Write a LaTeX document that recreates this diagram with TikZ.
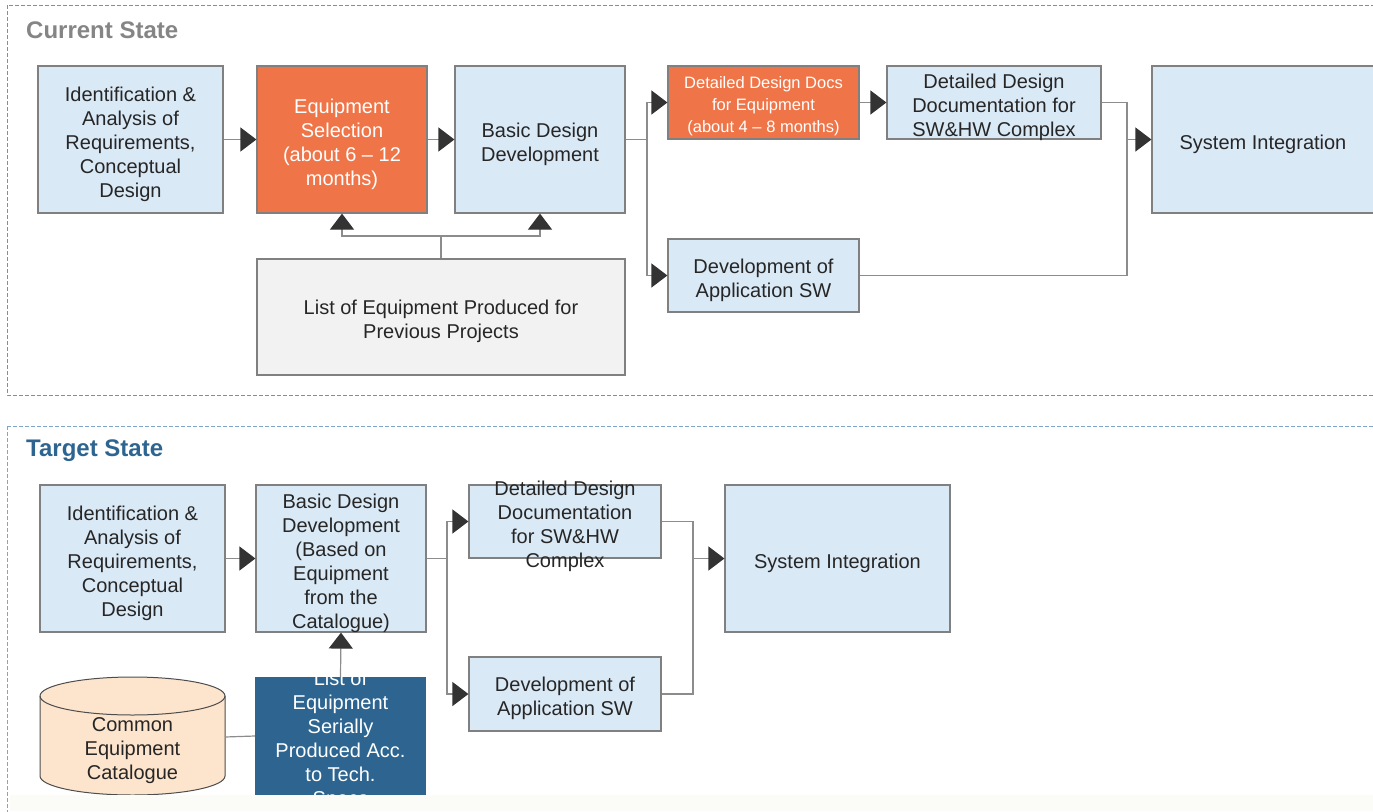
\documentclass[tikz,border=0pt]{standalone}
\usepackage{fontspec}
\setmainfont{Liberation Sans}
\usepackage{tikz}
\usetikzlibrary{arrows.meta}
\usetikzlibrary{calc}
\definecolor{lightblue}{HTML}{DAE9F6}
\definecolor{boxorange}{HTML}{EF7548}
\definecolor{listgrey}{HTML}{F2F2F2}
\definecolor{peach}{HTML}{FDE4CC}
\definecolor{darkblue}{HTML}{2D6590}
\definecolor{bordergrey}{HTML}{808080}
\definecolor{linegrey}{HTML}{8C8C8C}
\definecolor{tipgrey}{HTML}{333333}
\definecolor{textdark}{HTML}{262626}
\definecolor{framegrey}{HTML}{8C8C8C}
\definecolor{frameblue}{HTML}{7FA6C8}
\definecolor{fadecream}{HTML}{FBFCF7}
% strut for the first line of a box text
\newcommand{\topln}{\rule{0pt}{0.95em}}
\tikzstyle{boxtext} = [align=center, text=textdark, font=\fontsize{20}{24}\selectfont, inner sep=0pt, text depth=0pt]
\tikzstyle{basebox} = [rectangle, draw=bordergrey, line width=1.2pt, boxtext]
\tikzstyle{process} = [basebox, fill=lightblue]
\tikzstyle{hotspot} = [basebox, fill=boxorange, text=white]
\tikzstyle{oldlist} = [basebox, fill=listgrey]
\tikzstyle{newlist} = [rectangle, fill=darkblue, inner sep=0pt]
\tikzstyle{statetitle} = [anchor=west, inner sep=0pt, font=\fontsize{24}{28}\selectfont\bfseries]
\tikzstyle{frame} = [dash pattern=on 4pt off 2pt, line width=1pt]
\tikzstyle{line} = [draw=linegrey, line width=1.2pt]
\tikzstyle{arrow} = [line, -{Triangle[length=16pt, width=24pt, color=tipgrey]}]

\begin{document}
\begin{tikzpicture}[x=1pt, y=-1pt]
	\clip (0,0) rectangle (1373,811);
	% frames
	\draw [frame, framegrey] (7,5) rectangle (1390,395);
	\draw [frame, frameblue] (7,426) rectangle (1390,830);
	\node (curtitle) [statetitle, text=framegrey!95!black] at (26,30) {Current State};
	\node (tgttitle) [statetitle, text=darkblue] at (26,451) {Target State};
	% current state
	\node (idA) [process, minimum width=185pt, minimum height=147pt] at (130.5,139.5) {\topln Identification \&\\Analysis of\\Requirements,\\Conceptual\\Design};
	\node (eqSel) [hotspot, minimum width=170pt, minimum height=147pt] at (342,139.5) {\topln Equipment\\Selection\\(about 6 – 12\\months)};
	\node (basic) [process, minimum width=170pt, minimum height=147pt] at (540,139.5) {\topln Basic Design\\Development};
	\node (ddEq) [hotspot, minimum width=191pt, minimum height=73pt, font=\fontsize{16.5}{22}\selectfont] at (763.5,102.5) {\topln Detailed Design Docs\\for Equipment\\(about 4 – 8 months)};
	\node (ddSW) [process, minimum width=214pt, minimum height=73pt] at (994,102.5) {\topln Detailed Design\\Documentation for\\SW\&HW Complex};
	\node (sysInt) [process, minimum width=222pt, minimum height=147pt] at (1263,139.5) {\topln System Integration};
	\node (devApp) [process, minimum width=191pt, minimum height=73pt] at (763.5,275.5) {\topln Development of\\Application SW};
	\node (list) [oldlist, minimum width=368pt, minimum height=116pt] at (441,317) {\topln List of Equipment Produced for\\Previous Projects};
	\coordinate (splitA) at (647,139.5);
	\coordinate (joinA) at (1127,139.5);
	\coordinate (forkA) at (441,236);
	%lines
	\draw [arrow] (idA) -- (eqSel);
	\draw [arrow] (eqSel) -- (basic);
	\draw [line] (basic.east) -- (splitA);
	\draw [arrow] (splitA) |- (ddEq.west);
	\draw [arrow] (splitA) |- (devApp.west);
	\draw [arrow] (ddEq) -- (ddSW);
	\draw [line] (ddSW.east) -| (joinA);
	\draw [line] (devApp.east) -| (joinA);
	\draw [arrow] (joinA) -- (sysInt.west);
	\draw [line] (list.north) -- (forkA);
	\draw [arrow] (forkA) -| (eqSel.south);
	\draw [arrow] (forkA) -| (basic.south);
	% target state
	\node (idB) [process, minimum width=185pt, minimum height=147pt] at (132.5,558.5) {\topln Identification \&\\Analysis of\\Requirements,\\Conceptual\\Design};
	\node (basicB) [process, minimum width=170pt, minimum height=147pt] at (341,558.5) {\topln Basic Design\\Development\\(Based on\\Equipment\\from the\\Catalogue)};
	\node (ddSWB) [process, minimum width=192pt, minimum height=73pt, inner ysep=-10pt] at (565,521.5) {\topln Detailed Design\\Documentation\\for SW\&HW\\Complex};
	\node (devAppB) [process, minimum width=192pt, minimum height=74pt] at (565,694) {\topln Development of\\Application SW};
	\node (sysIntB) [process, minimum width=225pt, minimum height=147pt] at (837.5,558.5) {\topln System Integration};
	\draw [draw=bordergrey!60!black, fill=peach, line width=1pt] (40,696) -- (40,776) arc [start angle=180, end angle=0, x radius=92.5, y radius=19] -- (225,696) arc [start angle=0, end angle=-180, x radius=92.5, y radius=19] -- cycle;
	\draw [draw=bordergrey!60!black, line width=1pt] (40,696) arc [start angle=180, end angle=0, x radius=92.5, y radius=19];
	\node (cat) [boxtext] at (132.5,745.5) {\topln Common\\Equipment\\Catalogue};
	\node (listB) [newlist, minimum width=171pt, minimum height=118pt] at (340.5,736) {};
	\begin{scope}
		\clip (listB.north west) rectangle (listB.south east);
		\node [boxtext, text=white] at (340.5,735.5) {\topln List of\\Equipment\\Serially\\Produced Acc.\\to Tech.\\Specs};
	\end{scope}
	\coordinate (splitB) at (447,558.5);
	\coordinate (joinB) at (693,558.5);
	%lines
	\draw [arrow] (idB) -- (basicB);
	\draw [line] (basicB.east) -- (splitB);
	\draw [arrow] (splitB) |- (ddSWB.west);
	\draw [arrow] (splitB) |- (devAppB.west);
	\draw [line] (ddSWB.east) -| (joinB);
	\draw [line] (devAppB.east) -| (joinB);
	\draw [arrow] (joinB) -- (sysIntB.west);
	\draw [arrow] (listB.north) -- (basicB.south);
	\draw [line] (225,737) -- (listB.west);
	% faded strip at the bottom
	\fill [fadecream] (10,795) rectangle (1373,811);
\end{tikzpicture}
\end{document}
